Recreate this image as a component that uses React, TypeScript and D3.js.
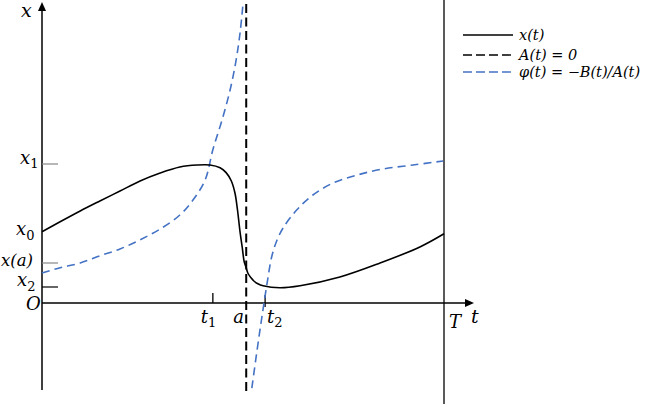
import React from "react";
import * as d3 from "d3";

// x(t) curve samples: [t, x]
const xCurveT = [0, 0.45, 0.95, 1.44, 1.94, 2.44, 2.94, 3.43, 3.86, 4.18, 4.43, 4.58, 4.71, 4.8, 4.86, 4.93, 4.98, 5.03, 5.08, 5.12, 5.2, 5.27, 5.37, 5.5, 5.92, 6.42, 7.41, 8.41, 9.4, 10.0];
const xCurveX = [1.78, 2.03, 2.3, 2.55, 2.8, 3.05, 3.25, 3.4, 3.45, 3.45, 3.38, 3.26, 3.05, 2.75, 2.35, 1.75, 1.4, 1.03, 0.88, 0.75, 0.63, 0.55, 0.48, 0.43, 0.38, 0.43, 0.65, 1.0, 1.4, 1.73];

// φ(t) left branch
const phiLeftT = [0, 0.45, 0.95, 1.44, 1.94, 2.44, 2.94, 3.43, 3.76, 4.06, 4.25, 4.48, 4.68, 4.83, 4.93, 5.0];
const phiLeftX = [0.75, 0.88, 1.0, 1.18, 1.35, 1.58, 1.85, 2.2, 2.58, 3.08, 3.83, 4.58, 5.33, 6.08, 6.78, 7.48];

// φ(t) right branch
const phiRightT = [5.22, 5.35, 5.47, 5.6, 5.72, 5.85, 6.0, 6.34, 6.74, 7.24, 7.84, 8.48, 9.23, 9.98];
const phiRightX = [-2.13, -1.18, -0.35, 0.5, 1.18, 1.58, 1.88, 2.33, 2.7, 3.0, 3.2, 3.35, 3.45, 3.55];

// tick values
const yTicks = [
  { v: 3.475, grey: true },
  { v: 1.0, grey: true },
  { v: 0.4, grey: false },
];
const tT1 = 4.25;
const tA = 5.08;
const tT2 = 5.55;
const tEnd = 10;
const x0Val = 1.78;

const legendItems = ["x(t)", "A(t) = 0", "φ(t) = −B(t)/A(t)"];

const BLUE = "#4472C4";
const FONT = "'DejaVu Serif', serif";

export default function App() {
  const tS = d3.scaleLinear().domain([0, 10]).range([42, 444]);
  const xS = d3.scaleLinear().domain([0, 7.5]).range([303, 3]);

  const line = d3
    .line<[number, number]>()
    .x((d) => tS(d[0]))
    .y((d) => xS(d[1]))
    .curve(d3.curveCatmullRom.alpha(0.5));

  const xPts = xCurveT.map((t, i) => [t, xCurveX[i]] as [number, number]);
  const lPts = phiLeftT.map((t, i) => [t, phiLeftX[i]] as [number, number]);
  const rPts = phiRightT.map((t, i) => [t, phiRightX[i]] as [number, number]);

  const ox = tS(0);
  const oy = xS(0);
  const it = { fontFamily: FONT, fontStyle: "italic" as const };

  return (
    <svg
      width={653}
      height={404}
      style={{ position: "absolute", left: 0, top: 0, background: "#fff" }}
    >
      {/* y axis */}
      <line x1={ox} x2={ox} y1={390} y2={10} stroke="#000" strokeWidth={1.5} />
      <path d={`M${ox - 4},${11} L${ox + 4},${11} L${ox},${2} Z`} fill="#000" />
      {/* x axis */}
      <line x1={ox} x2={465} y1={oy} y2={oy} stroke="#000" strokeWidth={1.5} />
      <path d={`M${465},${oy - 4} L${465},${oy + 4} L${474},${oy} Z`} fill="#000" />

      {/* T line */}
      <line x1={tS(tEnd)} x2={tS(tEnd)} y1={0} y2={404} stroke="#000" strokeWidth={1.3} />
      {/* A(t)=0 dashed */}
      <line x1={tS(tA)} x2={tS(tA)} y1={4} y2={393} stroke="#000" strokeWidth={2} strokeDasharray="9,4.5" />

      {/* y ticks */}
      {yTicks.map((d, i) => (
        <line key={i} x1={ox} x2={ox + 16} y1={xS(d.v)} y2={xS(d.v)} stroke={d.grey ? "#888" : "#000"} strokeWidth={1.2} />
      ))}
      {/* t ticks */}
      <line x1={tS(tT1)} x2={tS(tT1)} y1={oy - 10} y2={oy} stroke="#000" strokeWidth={1.3} />
      <line x1={tS(tT2)} x2={tS(tT2)} y1={oy - 8} y2={oy + 4} stroke="#000" strokeWidth={1.3} />

      {/* curves */}
      <path d={line(lPts) || ""} fill="none" stroke={BLUE} strokeWidth={1.6} strokeDasharray="8,5" />
      <path d={line(rPts) || ""} fill="none" stroke={BLUE} strokeWidth={1.6} strokeDasharray="8,5" />
      <path d={line(xPts) || ""} fill="none" stroke="#000" strokeWidth={1.6} />

      {/* y labels */}
      <text x={21} y={17} fontSize={19} {...it}>x</text>
      <text x={20} y={xS(yTicks[0].v)} fontSize={18} {...it}>
        x<tspan fontStyle="normal" fontSize={13} dy={4}>1</tspan>
      </text>
      <text x={16} y={xS(x0Val) + 3} fontSize={18} {...it}>
        x<tspan fontStyle="normal" fontSize={13} dy={5}>0</tspan>
      </text>
      <text x={1} y={xS(yTicks[1].v) + 3} fontSize={16.5} {...it}>x(a)</text>
      <text x={17} y={xS(yTicks[2].v) - 1} fontSize={18} {...it}>
        x<tspan fontStyle="normal" fontSize={13} dy={5}>2</tspan>
      </text>
      <text x={26} y={oy + 7} fontSize={18} {...it}>O</text>

      {/* t labels */}
      <text x={tS(tT1) - 12} y={323} fontSize={18} {...it}>
        t<tspan fontStyle="normal" fontSize={13} dy={4}>1</tspan>
      </text>
      <text x={tS(tA) - 13} y={323} fontSize={18} {...it}>a</text>
      <text x={tS(tT2) + 2} y={323} fontSize={18} {...it}>
        t<tspan fontStyle="normal" fontSize={13} dy={4}>2</tspan>
      </text>
      <text x={tS(tEnd) + 5} y={328} fontSize={18} {...it}>T</text>
      <text x={471} y={323} fontSize={19} {...it}>t</text>

      {/* legend */}
      {legendItems.map((lab, i) => {
        const y = [35, 55, 72][i];
        return (
          <g key={i}>
            <line
              x1={463}
              x2={513}
              y1={y}
              y2={y}
              stroke={i === 2 ? BLUE : "#000"}
              strokeWidth={1.4}
              strokeDasharray={i === 0 ? undefined : "9,4"}
            />
            <text x={519} y={y + 5} fontSize={14.5} {...it}>{lab}</text>
          </g>
        );
      })}
    </svg>
  );
}
